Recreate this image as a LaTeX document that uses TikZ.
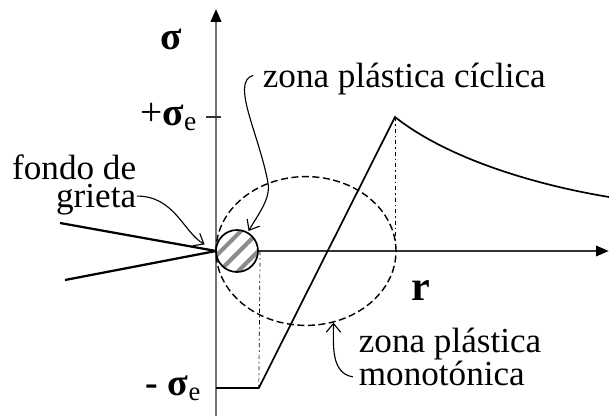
\documentclass[tikz,border=0pt]{standalone}
\usepackage{fontspec}
\setmainfont{Liberation Serif}
\usetikzlibrary{arrows.meta,patterns.meta,shapes.geometric}

\begin{document}
\begin{tikzpicture}[>={Straight Barb[length=2.2mm,width=3.6mm]}, line width=1.2pt,
    lbl/.style={inner sep=0pt, font=\fontsize{25}{20}\selectfont},
    callout/.style={->, line width=0.8pt},
    axis/.style={line width=1.6pt, -{Triangle[length=3.2mm,width=2.6mm,color=black]}}]

\useasboundingbox (-5.4,-4.125) rectangle (9.825,6.275);

% Puntos de la curva de tensiones
\coordinate (tip) at (0,0);
\coordinate (lo)  at (1.07,-3.425);
\coordinate (pk)  at (4.475,3.35);

% Ejes
\draw[axis, black!55] (0,-4.125) -- (0,6.05);
\draw[axis, black!80] (tip) -- (9.82,0);
\draw[black!80] (-0.25,3.35) -- (0.12,3.35);

% Grieta
\draw[line width=1.6pt] (tip) -- (-3.9,0.7);
\draw[line width=1.6pt] (tip) -- (-3.775,-0.725);

% Zona plastica monotonica
\node[draw, dash pattern=on 5pt off 2.5pt, ellipse, line width=1pt,
      minimum width=4.5cm, minimum height=3.72cm, inner sep=0pt] (mpz) at (2.25,0) {};

% Distribucion de tensiones
\draw (0,-3.425) -- (lo) -- (pk) .. controls (5.8,2.3) and (8,1.65) .. (9.825,1.35);
\draw[dashdotted, line width=0.5pt] (pk) -- (pk |- tip);

% Zona plastica ciclica
\node[draw, circle, minimum size=1.05cm, inner sep=0pt, preaction={fill=white},
      pattern={Lines[angle=45,distance=3.3mm,line width=3pt]}, pattern color=black!45]
      (cpz) at (0.525,0) {};
\draw[dashdotted, line width=0.5pt] (cpz.east) -- (lo);

% Rotulos
\node[font=\bfseries\fontsize{28}{30}\selectfont] (sig) at (-1.125,5.3) {σ};
\node[font=\bfseries\fontsize{30}{32}\selectfont] (rlab) at (5.125,-1.0) {r};
\node[lbl, anchor=east] (sigp) at (-0.45,3.35) {\fontsize{28}{30}\selectfont+\textbf{σ}\textsubscript{e}};
\node[lbl, anchor=east] (sigm) at (-0.35,-3.425) {\fontsize{27}{30}\selectfont\textbf{- σ}\textsubscript{e}};
\node[lbl, align=right, anchor=east] (fondo) at (-1.975,1.65) {fondo de\\grieta};
\node[lbl, anchor=west] (cyclab) at (1.15,4.29) {zona plástica cíclica};
\node[lbl, align=left, anchor=west] (monolab) at (3.55,-2.65) {zona plástica\\monotónica};

% Flechas de los rotulos
\draw[callout, shorten >=3.3mm] ([yshift=5mm]fondo.south east) to[out=0, in=150] (tip);
\draw[callout] ([xshift=-2.2mm, yshift=1mm]cyclab.west)
    .. controls +(195:0.6) and +(100:1.2) .. (1.3,1.7)
    .. controls +(-80:0.4) and +(60:0.5) .. (cpz.60);
\draw[callout] ([xshift=-1.3mm, yshift=2.5mm]monolab.south west) to[out=170, in=-90] (mpz.-69);

\end{tikzpicture}
\end{document}
